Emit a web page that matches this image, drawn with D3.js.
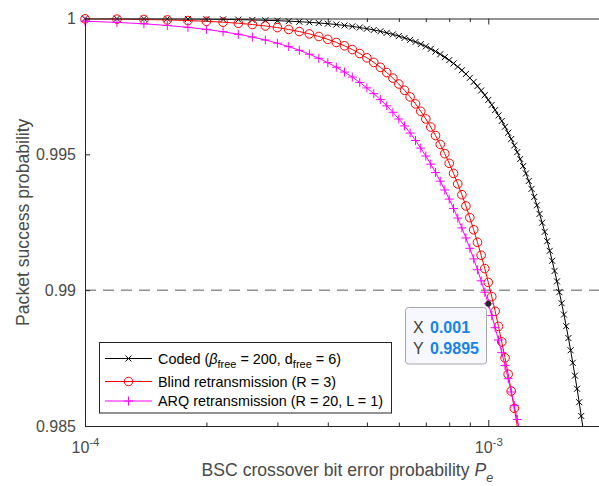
<!DOCTYPE html>
<html>
<head>
<meta charset="utf-8">
<script src="https://cdn.jsdelivr.net/npm/d3@7"></script>
<style>
  body { margin: 0; background: #fff; }
  svg { display: block; }
  text { font-family: "Liberation Sans", Arial, Helvetica, sans-serif; }
</style>
</head>
<body>
<svg id="chart" width="599" height="486"></svg>
<script>
// BSC crossover bit error probability (shared abscissa of all series)
const pe = [
  0.00010, 0.00012, 0.00014, 0.00016, 0.00018, 0.00020, 0.00022, 0.00024, 0.00026, 0.00028,
  0.00030, 0.00032, 0.00034, 0.00036, 0.00038, 0.00040, 0.00042, 0.00044, 0.00046, 0.00048,
  0.00050, 0.00052, 0.00054, 0.00056, 0.00058, 0.00060, 0.00062, 0.00064, 0.00066, 0.00068,
  0.00070, 0.00072, 0.00074, 0.00076, 0.00078, 0.00080, 0.00082, 0.00084, 0.00086, 0.00088,
  0.00090, 0.00092, 0.00094, 0.00096, 0.00098, 0.00100, 0.00102, 0.00104, 0.00106, 0.00108,
  0.00110, 0.00112, 0.00114, 0.00116, 0.00118, 0.00120, 0.00122, 0.00124, 0.00126, 0.00128,
  0.00130, 0.00132, 0.00134, 0.00136, 0.00138, 0.00140, 0.00142, 0.00144, 0.00146, 0.00148,
  0.00150, 0.00152, 0.00154, 0.00156, 0.00158, 0.00160, 0.00162, 0.00164, 0.00166, 0.00168,
  0.00170, 0.00172
];

// Packet success probability, coded transmission
const coded = [
  0.999997, 0.999995, 0.999992, 0.999988, 0.999983, 0.999976, 0.999968, 0.999959, 0.999947, 0.999934,
  0.999919, 0.999902, 0.999882, 0.999860, 0.999835, 0.999808, 0.999778, 0.999744, 0.999708, 0.999668,
  0.999625, 0.999578, 0.999528, 0.999473, 0.999415, 0.999352, 0.999285, 0.999214, 0.999138, 0.999057,
  0.998972, 0.998881, 0.998785, 0.998684, 0.998577, 0.998465, 0.998347, 0.998224, 0.998094, 0.997958,
  0.997815, 0.997667, 0.997511, 0.997349, 0.997180, 0.997004, 0.996821, 0.996631, 0.996433, 0.996228,
  0.996015, 0.995794, 0.995565, 0.995328, 0.995083, 0.994829, 0.994567, 0.994296, 0.994017, 0.993728,
  0.993431, 0.993124, 0.992808, 0.992482, 0.992147, 0.991802, 0.991447, 0.991082, 0.990707, 0.990322,
  0.989926, 0.989520, 0.989103, 0.988675, 0.988237, 0.987787, 0.987326, 0.986854, 0.986371, 0.985876,
  0.985369, 0.984851
];

// Packet success probability, blind retransmission (R = 3)
const blind = [
  0.999987, 0.999977, 0.999964, 0.999947, 0.999924, 0.999897, 0.999864, 0.999825, 0.999779, 0.999725,
  0.999665, 0.999596, 0.999519, 0.999433, 0.999338, 0.999233, 0.999118, 0.998994, 0.998858, 0.998712,
  0.998554, 0.998385, 0.998204, 0.998011, 0.997806, 0.997588, 0.997357, 0.997113, 0.996856, 0.996586,
  0.996302, 0.996004, 0.995691, 0.995365, 0.995024, 0.994669, 0.994299, 0.993914, 0.993514, 0.993099,
  0.992669, 0.992223, 0.991762, 0.991286, 0.990793, 0.990286, 0.989762, 0.989222, 0.988667, 0.988096,
  0.987509, 0.986905, 0.986286, 0.985650, 0.984998
];

// Packet success probability, ARQ retransmission (R = 20, L = 1)
const arq = [
  0.999900, 0.999856, 0.999804, 0.999743, 0.999675, 0.999598, 0.999513, 0.999420, 0.999318, 0.999209,
  0.999091, 0.998964, 0.998829, 0.998686, 0.998534, 0.998374, 0.998206, 0.998028, 0.997843, 0.997648,
  0.997446, 0.997234, 0.997014, 0.996785, 0.996548, 0.996301, 0.996046, 0.995782, 0.995510, 0.995228,
  0.994938, 0.994639, 0.994331, 0.994013, 0.993687, 0.993352, 0.993008, 0.992655, 0.992293, 0.991921,
  0.991541, 0.991151, 0.990752, 0.990344, 0.989926, 0.989500, 0.989064, 0.988618, 0.988164, 0.987700,
  0.987226, 0.986743, 0.986251, 0.985749, 0.985238, 0.984717
];

const yTickValues = [0.985, 0.99, 0.995, 1];
const yTickLabels = ["0.985", "0.99", "0.995", "1"];
const xMajorTicks = [1e-4, 1e-3];
const xMajorExponents = ["-4", "-3"];
const xMinorTicks = [2e-4, 3e-4, 4e-4, 5e-4, 6e-4, 7e-4, 8e-4, 9e-4];
const xDomain = [1e-4, 2e-3];
const yDomain = [0.985, 1];
const targetLevel = 0.99;
const tipX = 0.001;
const tipY = 0.9895;

// ---------------------------------------------------------------------------
const svg = d3.select("#chart");
const margin = { left: 85, top: 18.5, right: 609.7, bottom: 426 };
const axisColor = "#262626";
const labelColor = "#4a4a4a";

const x = d3.scaleLog().domain(xDomain).range([margin.left, margin.right]);
const y = d3.scaleLinear().domain(yDomain).range([margin.bottom, margin.top]);

svg.append("defs").append("clipPath").attr("id", "plot-clip")
  .append("rect")
  .attr("x", margin.left).attr("y", margin.top)
  .attr("width", margin.right - margin.left)
  .attr("height", margin.bottom - margin.top);

// Reference level at 0.99
svg.append("line")
  .attr("x1", x(xDomain[0])).attr("x2", x(xDomain[1]))
  .attr("y1", y(targetLevel)).attr("y2", y(targetLevel))
  .attr("stroke", "#5a5a5a").attr("stroke-width", 1)
  .attr("stroke-dasharray", "11,7");

// Series definitions
const series = [
  { name: "coded", values: coded, color: "#000000", marker: "cross" },
  { name: "blind", values: blind, color: "#ff0000", marker: "circle" },
  { name: "arq",   values: arq,   color: "#ff00ff", marker: "plus" }
];

function drawMarker(g, type, color) {
  if (type === "cross") {
    g.append("path").attr("d", "M-3,-3L3,3M-3,3L3,-3")
      .attr("stroke", color).attr("stroke-width", 1).attr("fill", "none");
  } else if (type === "circle") {
    g.append("circle").attr("r", 4.3)
      .attr("stroke", color).attr("stroke-width", 1).attr("fill", "none");
  } else {
    g.append("path").attr("d", "M-4.5,0H4.5M0,-4.5V4.5")
      .attr("stroke", color).attr("stroke-width", 1).attr("fill", "none");
  }
}

const line = d3.line().x(d => x(d[0])).y(d => y(d[1]));

series.forEach(s => {
  const pts = s.values.map((v, i) => [pe[i], v]);
  const g = svg.append("g").attr("class", "series-" + s.name);
  g.append("path")
    .datum(pts)
    .attr("clip-path", "url(#plot-clip)")
    .attr("d", line)
    .attr("fill", "none")
    .attr("stroke", s.color)
    .attr("stroke-width", 1);
  const visible = pts.filter(d => d[1] >= yDomain[0] && d[1] <= yDomain[1]);
  g.selectAll("g.mk").data(visible).enter().append("g")
    .attr("class", "mk")
    .attr("transform", d => `translate(${x(d[0])},${y(d[1])})`)
    .each(function () { drawMarker(d3.select(this), s.marker, s.color); });
});

// Axes ---------------------------------------------------------------------
const axisFont = 16;

function styleAxis(g) {
  g.select(".domain").attr("stroke", axisColor).attr("stroke-width", 1);
  g.selectAll(".tick line").attr("stroke", axisColor).attr("stroke-width", 1);
}

// bottom: minor then major ticks (inward)
svg.append("g").attr("transform", `translate(0,${margin.bottom})`)
  .call(d3.axisBottom(x).tickValues(xMinorTicks).tickSizeInner(-3.5).tickSizeOuter(0).tickFormat(""))
  .call(styleAxis);
const xMajorAxis = svg.append("g").attr("transform", `translate(0,${margin.bottom})`)
  .call(d3.axisBottom(x).tickValues(xMajorTicks).tickSizeInner(-6).tickSizeOuter(0).tickFormat(""))
  .call(styleAxis);
xMajorAxis.select(".domain").remove();
xMajorAxis.selectAll(".tick").each(function (d, i) {
  const t = d3.select(this).append("text")
    .attr("y", 27).attr("text-anchor", "middle")
    .attr("fill", labelColor).attr("font-size", axisFont);
  t.append("tspan").text("10");
  t.append("tspan").attr("dy", -7).attr("font-size", 11.5).text(xMajorExponents[i]);
});

// top: mirror ticks
svg.append("g").attr("transform", `translate(0,${margin.top})`)
  .call(d3.axisTop(x).tickValues(xMinorTicks).tickSizeInner(-3.5).tickSizeOuter(0).tickFormat(""))
  .call(styleAxis);
const xTopMajor = svg.append("g").attr("transform", `translate(0,${margin.top})`)
  .call(d3.axisTop(x).tickValues(xMajorTicks).tickSizeInner(-6).tickSizeOuter(0).tickFormat(""))
  .call(styleAxis);
xTopMajor.select(".domain").remove();

// left
svg.append("g").attr("transform", `translate(${margin.left},0)`)
  .call(d3.axisLeft(y).tickValues(yTickValues).tickSizeInner(-5).tickSizeOuter(0)
    .tickPadding(9).tickFormat((d, i) => yTickLabels[i]))
  .call(styleAxis)
  .call(g => g.selectAll(".tick text")
    .attr("fill", labelColor).attr("font-size", axisFont)
    .attr("font-family", "'Liberation Sans', Arial, sans-serif"));

// Axis titles
const titleFont = 17.6;
const xTitle = svg.append("text")
  .attr("x", (margin.left + margin.right) / 2).attr("y", 476)
  .attr("text-anchor", "middle").attr("fill", labelColor).attr("font-size", titleFont);
xTitle.append("tspan").text("BSC crossover bit error probability ");
xTitle.append("tspan").attr("font-style", "italic").text("P");
xTitle.append("tspan").attr("font-style", "italic").attr("dy", 6).attr("font-size", 12.5).text("e");

svg.append("text")
  .attr("transform", `translate(29,${(margin.top + margin.bottom) / 2}) rotate(-90)`)
  .attr("text-anchor", "middle").attr("fill", labelColor).attr("font-size", titleFont)
  .text("Packet success probability");

// Legend -------------------------------------------------------------------
const legendFont = 14.4;
const legend = svg.append("g");
legend.append("rect")
  .attr("x", 99.5).attr("y", 342.5).attr("width", 292).attr("height", 70.5)
  .attr("fill", "#ffffff").attr("stroke", axisColor).attr("stroke-width", 1);

const legendRows = [
  { s: series[0], ly: 358.5 },
  { s: series[1], ly: 381.5 },
  { s: series[2], ly: 401 }
];
legendRows.forEach(r => {
  legend.append("line")
    .attr("x1", 105).attr("x2", 152).attr("y1", r.ly).attr("y2", r.ly)
    .attr("stroke", r.s.color).attr("stroke-width", 1);
  const mg = legend.append("g").attr("transform", `translate(128.5,${r.ly})`);
  drawMarker(mg, r.s.marker, r.s.color);
});

const t0 = legend.append("text").attr("x", 158).attr("y", 363.5)
  .attr("font-size", legendFont).attr("fill", "#000");
t0.append("tspan").text("Coded (");
t0.append("tspan").attr("font-style", "italic").text("\u03B2");
t0.append("tspan").attr("dy", 4).attr("font-size", 11).text("free");
t0.append("tspan").attr("dy", -4).text(" = 200, d");
t0.append("tspan").attr("dy", 4).attr("font-size", 11).text("free");
t0.append("tspan").attr("dy", -4).text(" = 6)");

legend.append("text").attr("x", 158).attr("y", 386.5)
  .attr("font-size", legendFont).attr("fill", "#000")
  .text("Blind retransmission (R = 3)");
legend.append("text").attr("x", 158).attr("y", 406)
  .attr("font-size", legendFont).attr("fill", "#000")
  .text("ARQ retransmission (R = 20, L = 1)");

// Data tip -----------------------------------------------------------------
const tip = svg.append("g");
tip.append("rect")
  .attr("x", 405.5).attr("y", 307.5).attr("width", 81).attr("height", 56.5)
  .attr("rx", 3).attr("fill", "#f7f8fd").attr("stroke", "#a6a6a6").attr("stroke-width", 1);
const tipRows = [
  { k: "X", v: d3.format(".3f")(tipX), by: 333 },
  { k: "Y", v: d3.format(".4f")(tipY), by: 353.5 }
];
tipRows.forEach(r => {
  const t = tip.append("text").attr("x", 413).attr("y", r.by).attr("font-size", 16);
  t.append("tspan").attr("fill", "#404040").text(r.k);
  t.append("tspan").attr("x", 430).attr("fill", "#1583e8").attr("font-weight", "bold").text(r.v);
});
tip.append("circle")
  .attr("cx", x(tipX)).attr("cy", y(tipY)).attr("r", 3)
  .attr("fill", "#262626");
</script>
</body>
</html>
